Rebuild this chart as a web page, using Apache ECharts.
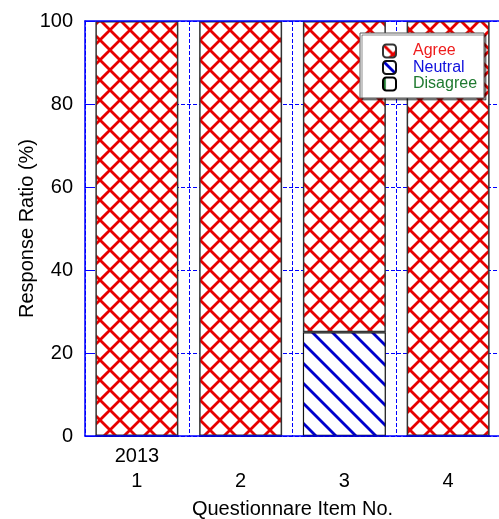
<!DOCTYPE html>
<html>
<head>
<meta charset="utf-8">
<script src="https://cdn.jsdelivr.net/npm/echarts@6/dist/echarts.min.js"></script>
<style>html,body{margin:0;padding:0;background:#fff}#c{width:499px;height:519px}</style>
</head>
<body>
<div id="c"></div>
<script>
var categories = ['1', '2', '3', '4'];
var tickLabels = ['2013\n1', '\n2', '\n3', '\n4'];
var agree = [100, 100, 75, 100];
var neutral = [0, 0, 25, 0];
var disagree = [0, 0, 0, 0];
var yTicks = [0, 20, 40, 60, 80, 100];

function makeTile(kind, color) {
  var s = 20;
  var c = document.createElement('canvas');
  c.width = s; c.height = s;
  var g = c.getContext('2d');
  g.fillStyle = '#fff';
  g.fillRect(0, 0, s, s);
  g.strokeStyle = color;
  g.lineWidth = 2.8;
  g.lineCap = 'square';
  for (var k = -1; k <= 1; k++) {
    var o = k * s;
    if (kind === 'cross' || kind === 'back') {
      g.beginPath(); g.moveTo(o, 0); g.lineTo(o + s, s); g.stroke();
    }
    if (kind === 'cross') {
      g.beginPath(); g.moveTo(o + s, 0); g.lineTo(o, s); g.stroke();
    }
    if (kind === 'vert') {
      g.beginPath(); g.moveTo(1, 0); g.lineTo(1, s); g.stroke();
    }
  }
  return { image: c, repeat: 'repeat' };
}

var chart = echarts.init(document.getElementById('c'), null, { renderer: 'canvas' });
var font = 'Liberation Sans, Arial, sans-serif';
var blue = '#0000ff';

chart.setOption({
  animation: false,
  backgroundColor: '#fff',
  grid: { left: 85, top: 21, width: 415, height: 415, containLabel: false, outerBoundsMode: 'none' },
  legend: {
    data: [
      { name: 'Agree', textStyle: { color: '#ee1c1c' } },
      { name: 'Neutral', textStyle: { color: '#1010dd' } },
      { name: 'Disagree', textStyle: { color: '#1f7a30' } }
    ],
    orient: 'vertical',
    left: 360, top: 33,
    padding: [10, 7, 6, 22],
    itemWidth: 13, itemHeight: 13, itemGap: 0.5,
    backgroundColor: '#fff',
    borderColor: '#555', borderWidth: 1,
    shadowColor: 'rgba(0,0,0,0.45)', shadowOffsetX: 2, shadowOffsetY: 2, shadowBlur: 0,
    textStyle: { fontFamily: font, fontSize: 16, lineHeight: 16, padding: [0, 0, 0, 12] }
  },
  xAxis: [{
    type: 'category', data: categories, position: 'bottom', z: 3,
    axisLine: { lineStyle: { color: blue, width: 1.5 } },
    axisTick: { show: false },
    axisLabel: {
      color: '#000', fontFamily: font, fontSize: 20, lineHeight: 25, margin: 8,
      formatter: function (v, i) { return tickLabels[i]; }
    },
    splitLine: { show: true, lineStyle: { color: blue, type: [4, 2], width: 1 } },
    name: 'Questionnare Item No.', nameLocation: 'middle', nameGap: 63, nameMoveOverlap: false,
    nameTextStyle: { color: '#000', fontFamily: font, fontSize: 20 }
  }, {
    type: 'category', data: categories, position: 'top', z: 3,
    axisLine: { lineStyle: { color: blue, width: 1.5 } },
    axisTick: { show: false }, axisLabel: { show: false }, splitLine: { show: false }
  }],
  yAxis: {
    type: 'value', min: 0, max: 100, interval: 20,
    axisLine: { show: true, lineStyle: { color: blue, width: 1.5 } },
    axisTick: { show: true, inside: true, length: 10, lineStyle: { color: blue } },
    axisLabel: {
      color: '#000', fontFamily: font, fontSize: 20, margin: 12,
      formatter: function (v) { return yTicks.indexOf(v) >= 0 ? String(v) : ''; }
    },
    splitLine: { show: true, lineStyle: { color: blue, type: [4, 2], width: 1 } },
    name: 'Response Ratio (%)', nameLocation: 'middle', nameGap: 48, nameMoveOverlap: false,
    nameTextStyle: { color: '#000', fontFamily: font, fontSize: 20 }
  },
  series: [{
    name: 'Disagree', type: 'bar', stack: 's', data: disagree, barCategoryGap: '20%',
    itemStyle: { color: makeTile('vert', '#1f7a30'), borderColor: '#000', borderWidth: 1 }
  }, {
    name: 'Neutral', type: 'bar', stack: 's', data: neutral, barCategoryGap: '20%',
    itemStyle: { color: makeTile('back', '#0000cc'), borderColor: '#111', borderWidth: 1.2 }
  }, {
    name: 'Agree', type: 'bar', stack: 's', data: agree, barCategoryGap: '20%',
    itemStyle: { color: makeTile('cross', '#e60000'), borderColor: '#333', borderWidth: 1.5 }
  }]
});
</script>
</body>
</html>
